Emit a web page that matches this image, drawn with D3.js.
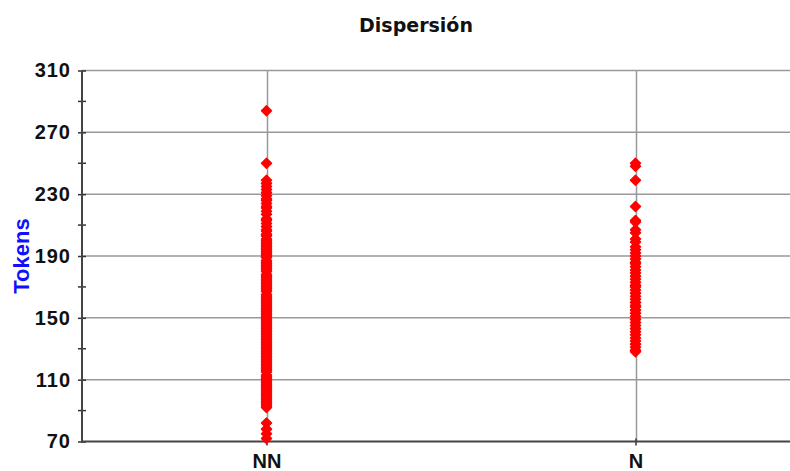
<!DOCTYPE html>
<html>
<head>
  <meta charset="utf-8">
  <script src="https://cdn.jsdelivr.net/npm/d3@7"></script>
  <style>
    body { margin: 0; background: #fff; }
  </style>
</head>
<body>
<script>
  // categories and tick labels
  var categories = ["NN", "N"];
  var yTicks = [70, 110, 150, 190, 230, 270, 310];
  var yMinorTicks = [90, 130, 170, 210, 250, 290];

  // token counts
  var nnValues = [284, 250, 239, 237, 235, 233, 231, 229, 227, 226, 224, 222, 221, 219, 217, 214, 213, 211,
    209, 207, 206, 204, 203, 201, 200, 199, 198, 197, 196, 195, 194, 193, 192, 191, 190, 189, 187, 186,
    185, 184, 183, 182, 181, 180, 178, 177, 176, 175, 174, 173, 172, 171, 170, 169, 168, 167, 165, 164,
    163, 162, 161, 160, 159, 158, 157, 156, 155, 154, 153, 152, 151, 150, 149, 148, 147, 146, 145, 144,
    143, 142, 141, 140, 139, 138, 137, 136, 135, 134, 133, 132, 131, 130, 129, 128, 127, 126, 125, 124,
    123, 122, 121, 120, 119, 118, 117, 116, 115, 113, 112, 111, 110, 109, 108, 107, 106, 105, 104, 103,
    102, 101, 100, 99, 98, 97, 96, 95, 94, 93, 92, 82, 78, 75, 72];
  var nValues = [250, 248, 239, 222, 213, 212, 207, 205, 201, 199, 196, 194, 192, 190, 188, 186, 185, 183,
    181, 179, 177, 175, 173, 171, 170, 168, 166, 164, 162, 160, 158, 157, 155, 153, 151, 149, 147, 145,
    143, 141, 139, 137, 135, 133, 131, 129, 128];

  var width = 790, height = 471;
  var plotLeft = 82, plotRight = 820, plotTop = 70.5, plotBottom = 441.5;
  var labelFont = "'Liberation Sans', Arial, Helvetica, sans-serif";

  var points = [];
  nnValues.forEach(function(v) { points.push({cat: "NN", v: v}); });
  nValues.forEach(function(v) { points.push({cat: "N", v: v}); });

  var svg = d3.select("body").append("svg")
    .attr("width", width)
    .attr("height", height);

  var x = d3.scalePoint()
    .domain(categories)
    .range([plotLeft, plotRight])
    .padding(0.5);

  var y = d3.scaleLinear()
    .domain([70, 310])
    .range([plotBottom, plotTop]);

  // horizontal grid
  svg.append("g")
    .selectAll("line")
    .data(yTicks.slice(1))
    .join("line")
    .attr("x1", plotLeft).attr("x2", width)
    .attr("y1", function(d) { return y(d); })
    .attr("y2", function(d) { return y(d); })
    .attr("stroke", "#999")
    .attr("stroke-width", 1.5);

  // vertical grid
  svg.append("g")
    .selectAll("line")
    .data(categories)
    .join("line")
    .attr("x1", function(d) { return Math.round(x(d)) + 0.5; })
    .attr("x2", function(d) { return Math.round(x(d)) + 0.5; })
    .attr("y1", plotTop).attr("y2", plotBottom)
    .attr("stroke", "#999")
    .attr("stroke-width", 1.5);

  // y axis
  var yAxis = d3.axisLeft(y)
    .tickValues(yTicks)
    .tickSize(4)
    .tickPadding(7);
  var gy = svg.append("g")
    .attr("transform", "translate(" + plotLeft + ",0)")
    .call(yAxis);
  gy.select(".domain").remove();
  gy.selectAll(".tick line").attr("x2", -4).attr("x1", 4).attr("stroke", "#333").attr("stroke-width", 1.5);
  gy.selectAll(".tick text")
    .style("font-family", labelFont)
    .style("font-weight", "bold")
    .style("font-size", "20px")
    .style("letter-spacing", "1px")
    .attr("fill", "#111");

  svg.append("g")
    .selectAll("line")
    .data(yMinorTicks)
    .join("line")
    .attr("x1", plotLeft - 4).attr("x2", plotLeft + 4)
    .attr("y1", function(d) { return y(d); })
    .attr("y2", function(d) { return y(d); })
    .attr("stroke", "#333")
    .attr("stroke-width", 1.5);

  svg.append("line")
    .attr("x1", plotLeft).attr("x2", plotLeft)
    .attr("y1", plotTop).attr("y2", plotBottom + 1)
    .attr("stroke", "#444")
    .attr("stroke-width", 2);

  // x axis
  var xAxis = d3.axisBottom(x).tickSize(4).tickPadding(8);
  var gx = svg.append("g")
    .attr("transform", "translate(0," + plotBottom + ")")
    .call(xAxis);
  gx.select(".domain").remove();
  gx.selectAll(".tick line").attr("y1", -3).attr("y2", 4).attr("stroke", "#333").attr("stroke-width", 1.5);
  gx.selectAll(".tick text")
    .style("font-family", labelFont)
    .style("font-weight", "bold")
    .style("font-size", "20px")
    .attr("fill", "#111");

  svg.append("line")
    .attr("x1", plotLeft).attr("x2", width)
    .attr("y1", plotBottom).attr("y2", plotBottom)
    .attr("stroke", "#444")
    .attr("stroke-width", 2);

  // points
  var diamond = "M0,-5L5,0L0,5L-5,0Z";
  svg.append("g")
    .selectAll("path")
    .data(points)
    .join("path")
    .attr("d", diamond)
    .attr("transform", function(d) { return "translate(" + x(d.cat) + "," + y(d.v) + ")"; })
    .attr("fill", "#ff0000")
    .attr("stroke", "#ff0000")
    .attr("stroke-width", 1.5)
    .attr("stroke-linejoin", "round");

  // titles
  svg.append("text")
    .attr("x", 416)
    .attr("y", 32)
    .attr("text-anchor", "middle")
    .style("font-family", "'DejaVu Sans', Verdana, sans-serif")
    .style("font-weight", "bold")
    .style("font-size", "19px")
    .attr("fill", "#111")
    .text("Dispersión");

  svg.append("text")
    .attr("transform", "translate(29," + ((plotTop + plotBottom) / 2) + ") rotate(-90)")
    .attr("text-anchor", "middle")
    .style("font-family", labelFont)
    .style("font-weight", "bold")
    .style("font-size", "22px")
    .attr("fill", "#1010ff")
    .text("Tokens");
</script>
</body>
</html>
